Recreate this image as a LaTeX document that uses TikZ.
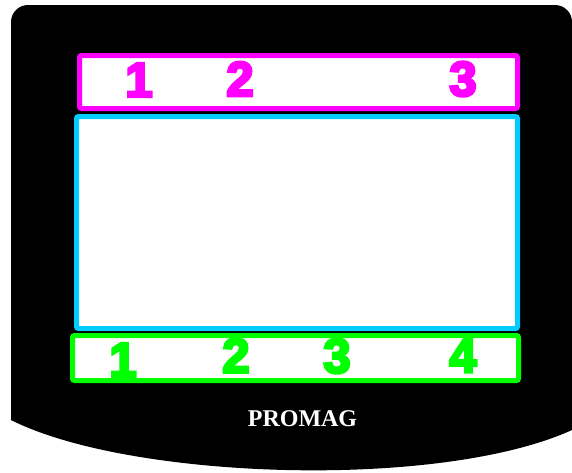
\documentclass[tikz,border=0pt]{standalone}
\usepackage{fontspec}
\newfontfamily\digitfont[FakeBold=5.5]{Liberation Sans Bold}
\newfontfamily\labelfont{Liberation Serif}
\definecolor{magentaA}{HTML}{FF00FF}
\definecolor{cyanA}{HTML}{00CCFF}
\definecolor{greenA}{HTML}{00FF00}
\tikzset{
  panel/.style={draw, line width=5pt, fill=white, rounded corners=2pt, inner sep=0pt},
  digit/.style={font=\digitfont\fontsize{49}{49}\selectfont, inner sep=0pt},
}
\begin{document}
\begin{tikzpicture}[x=1pt,y=-1pt]
\useasboundingbox (0,0) rectangle (572,472);
\fill[white] (0,0) rectangle (572,472);
% black housing
\fill[black] (11,420) {[rounded corners=17pt] -- (11,5) -- (572,5) -- (572,60)} -- (572,430)
  .. controls (440,490) and (130,480) .. (11,420) -- cycle;
% panels
\node[panel, draw=magentaA, minimum width=438pt, minimum height=53pt] (top) at (298.5,82) {};
\node[panel, draw=cyanA, minimum width=441pt, minimum height=212pt] (mid) at (297,222.5) {};
\node[panel, draw=greenA, minimum width=446pt, minimum height=45pt] (bot) at (295.5,358) {};
% top digits
\node[digit, text=magentaA] (t1) at (139,80) {1};
\node[digit, text=magentaA] (t2) at (240,79) {2};
\node[digit, text=magentaA] (t3) at (463,79) {3};
% bottom digits
\node[digit, text=greenA] (b1) at (123,360) {1};
\node[digit, text=greenA] (b2) at (236,355.5) {2};
\node[digit, text=greenA] (b3) at (337,356) {3};
\node[digit, text=greenA] (b4) at (463,355.5) {4};
% label
\node[font=\labelfont\bfseries\fontsize{24}{24}\selectfont, text=white, inner sep=0pt] (brand) at (302.5,418.5) {PROMAG};
\end{tikzpicture}
\end{document}
